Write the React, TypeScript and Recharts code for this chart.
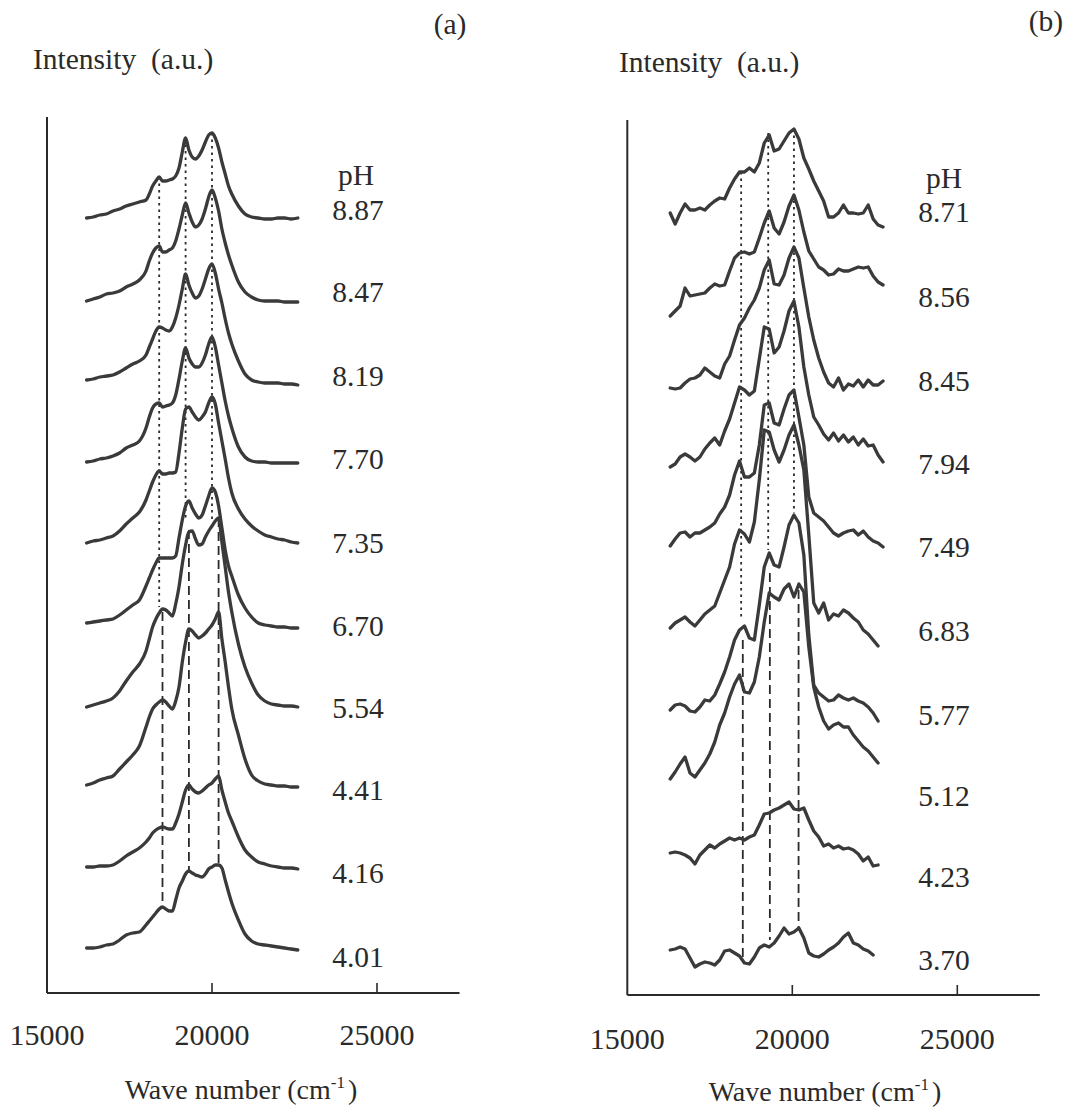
import React from 'react';
import { LineChart, Line, XAxis, YAxis, ReferenceLine } from 'recharts';

// ---------- panel (a) ----------
// wavenumber grid, cm^-1 (finer through the band region)
const gridA = [
  16200, 16400, 16600, 16800, 17000, 17200, 17400, 17600, 17800,
  18000, 18100, 18200, 18300, 18400, 18500, 18600, 18700, 18800, 18900,
  19000, 19100, 19200, 19300, 19400, 19500, 19600, 19700, 19800, 19900,
  20000, 20100, 20200, 20300, 20400, 20500, 20600,
  20800, 21000, 21200, 21400, 21600, 21800, 22000, 22200, 22400, 22600,
];

const phA = ['8.87', '8.47', '8.19', '7.70', '7.35', '6.70', '5.54', '4.41', '4.16', '4.01'];
// vertical stacking offset of each trace (a.u.)
const offsetsA = [775, 692, 610, 530, 450, 365, 286, 206, 124, 43];

const a887 = [0, 1, 3, 4, 7, 9, 12, 14, 16, 18, 24, 32, 37, 41, 37, 37, 38, 39, 42, 50, 66, 80, 68, 61, 59, 62, 68, 76, 83, 85, 80, 70, 56, 44, 32, 24, 12, 4, 1, 0, -1, -1, 0, 0, -1, 0];
const a847 = [0, 2, 4, 7, 8, 10, 14, 17, 21, 30, 40, 48, 53, 55, 49, 49, 51, 53, 60, 72, 86, 98, 88, 79, 74, 76, 82, 92, 104, 111, 103, 90, 72, 58, 46, 36, 19, 9, 4, 1, 0, 0, 0, -1, -1, -1];
const a819 = [3, 4, 6, 7, 8, 11, 15, 19, 22, 28, 36, 44, 52, 56, 55, 53, 52, 56, 65, 78, 94, 109, 98, 90, 85, 87, 94, 104, 114, 119, 110, 94, 80, 64, 50, 39, 22, 9, 3, 1, 0, 0, 0, -1, -1, -2];
const a770 = [1, 2, 4, 5, 7, 10, 15, 18, 22, 35, 46, 55, 59, 60, 56, 57, 58, 60, 68, 84, 102, 115, 105, 99, 96, 96, 100, 108, 119, 126, 116, 98, 80, 62, 47, 35, 16, 6, 2, 1, 1, 0, 0, 0, 0, 0];
const a735 = [0, 2, 3, 5, 7, 12, 19, 25, 31, 43, 52, 61, 68, 72, 69, 69, 70, 70, 71, 90, 115, 134, 136, 131, 126, 123, 126, 131, 140, 146, 139, 120, 102, 84, 65, 50, 34, 24, 17, 12, 8, 6, 4, 3, 1, 0];
const a670 = [5, 6, 7, 8, 9, 13, 18, 23, 28, 42, 50, 58, 65, 70, 70, 70, 70, 70, 72, 90, 108, 122, 127, 120, 114, 110, 113, 122, 132, 140, 136, 122, 100, 78, 62, 52, 33, 20, 11, 5, 3, 2, 1, 1, 0, 0];
const a554 = [0, 2, 4, 6, 9, 16, 26, 35, 43, 56, 68, 80, 88, 94, 98, 97, 94, 91, 103, 120, 143, 162, 175, 176, 168, 162, 163, 170, 176, 181, 186, 189, 165, 140, 115, 95, 63, 40, 24, 12, 6, 3, 2, 1, 1, 0];
const a441 = [2, 4, 7, 9, 11, 18, 25, 32, 41, 60, 70, 78, 82, 85, 87, 85, 81, 78, 86, 100, 125, 145, 158, 156, 152, 149, 151, 154, 158, 162, 168, 175, 148, 125, 100, 78, 52, 28, 12, 6, 3, 2, 1, 1, 0, 0];
const a416 = [2, 2, 3, 3, 4, 8, 13, 17, 21, 27, 31, 36, 39, 41, 42, 41, 40, 40, 46, 55, 67, 79, 84, 80, 77, 76, 78, 81, 84, 86, 90, 93, 79, 67, 56, 48, 32, 19, 12, 7, 5, 3, 2, 1, 1, 0];
const a401 = [2, 2, 3, 5, 6, 10, 15, 17, 18, 25, 29, 33, 37, 41, 43, 41, 39, 39, 50, 62, 69, 76, 79, 77, 75, 74, 73, 76, 81, 83, 85, 85, 82, 70, 58, 47, 30, 16, 9, 6, 5, 4, 3, 2, 1, 0];

const spectraA = [a887, a847, a819, a770, a735, a670, a554, a441, a416, a401];

// band-position guides: [wavenumber, upper a.u., lower a.u., style]
const guidesA: [number, number, number, string][] = [
  [18400, 816, 386, 'dot'],
  [19200, 855, 473, 'dot'],
  [20000, 860, 473, 'dot'],
  [18500, 381, 86, 'dash'],
  [19300, 463, 122, 'dash'],
  [20200, 475, 128, 'dash'],
];

// ---------- panel (b) ----------
const gridB = [
  16300, 16450, 16600, 16750, 16900, 17050, 17200, 17350, 17500, 17650, 17800,
  17950, 18100, 18250, 18400, 18550, 18700, 18850, 19000, 19150, 19300, 19450,
  19600, 19750, 19900, 20050, 20200, 20350, 20500, 20650, 20800, 20950, 21100,
  21250, 21400, 21550, 21700, 21850, 22000, 22150, 22300, 22450, 22600, 22750,
];

const phB = ['8.71', '8.56', '8.45', '7.94', '7.49', '6.83', '5.77', '5.12', '4.23', '3.70'];
const offsetsB = [770, 679, 607, 528, 450, 365, 280, 208, 137, 42];

const b871 = [12, 1, 12, 21, 15, 15, 17, 15, 20, 24, 27, 26, 37, 46, 53, 53, 57, 53, 62, 82, 90, 74, 76, 84, 92, 96, 86, 67, 56, 44, 34, 24, 8, 8, 12, 20, 12, 12, 11, 12, 20, 6, 0, -2];
const b856 = [0, 5, 10, 28, 20, 21, 22, 23, 28, 32, 30, 31, 45, 58, 63, 64, 62, 64, 78, 93, 105, 88, 82, 94, 110, 121, 106, 84, 65, 57, 49, 46, 41, 42, 47, 45, 45, 47, 49, 48, 49, 40, 34, 31];
const b845 = [0, -1, 0, 5, 9, 10, 13, 20, 16, 12, 10, 24, 32, 48, 63, 70, 80, 88, 100, 118, 128, 104, 103, 113, 130, 141, 130, 100, 71, 48, 30, 16, 5, 1, 10, -2, 4, 2, 8, 1, 8, 3, 3, 7];
const b794 = [0, 3, 10, 13, 10, 6, 10, 18, 24, 29, 22, 36, 48, 64, 80, 77, 72, 76, 108, 140, 138, 114, 120, 136, 156, 166, 140, 100, 72, 50, 42, 33, 27, 34, 26, 32, 25, 30, 22, 28, 21, 22, 12, 5];
const b749 = [-1, 6, 12, 13, 8, 12, 12, 15, 18, 22, 31, 38, 50, 70, 84, 68, 68, 72, 100, 140, 142, 122, 120, 136, 150, 155, 128, 100, 48, 32, 28, 24, 18, 12, 9, 12, 14, 15, 10, 14, 8, 4, 2, -2];
const b683 = [2, 7, 10, 13, 8, 4, 10, 16, 20, 24, 37, 50, 63, 86, 100, 96, 88, 108, 150, 200, 198, 180, 168, 180, 195, 205, 185, 160, 95, 27, 17, 27, 10, 16, 14, 20, 17, 12, 8, 0, -4, -10, -16, null];
const b577 = [5, 10, 11, 9, 4, 3, 8, 15, 14, 20, 31, 43, 58, 75, 85, 89, 77, 75, 110, 148, 162, 150, 148, 168, 190, 200, 192, 160, 80, 30, 22, 18, 14, 15, 20, 17, 15, 17, 14, 12, 8, 2, -6, null];
const b512 = [8, 15, 23, 30, 14, 10, 17, 24, 33, 45, 62, 74, 90, 103, 112, 95, 94, 105, 130, 165, 194, 190, 187, 198, 203, 190, 203, 195, 140, 100, 80, 66, 58, 62, 64, 60, 60, 52, 46, 40, 36, 30, 24, null];
const b423 = [5, 6, 5, 3, 0, -6, 3, 8, 13, 10, 14, 17, 20, 18, 20, 18, 21, 23, 33, 44, 45, 48, 50, 53, 56, 49, 48, 50, 38, 27, 21, 12, 14, 10, 12, 9, 10, 8, 4, -3, 1, -8, -7, null];
const b370 = [3, 4, 6, 4, -5, -14, -11, -9, -10, -12, -7, 2, 3, 0, -3, -10, -11, -4, 5, 8, 6, 10, 17, 25, 19, 21, 25, 15, 0, -3, -4, -1, 3, 6, 10, 16, 20, 10, 8, 4, 2, -2, null, null];

const spectraB = [b871, b856, b845, b794, b749, b683, b577, b512, b423, b370];

const guidesB: [number, number, number, string][] = [
  [18450, 823, 375, 'dot'],
  [19270, 862, 445, 'dot'],
  [20050, 866, 482, 'dot'],
  [18500, 355, 38, 'dash'],
  [19320, 422, 55, 'dash'],
  [20190, 405, 67, 'dash'],
];

const xTicks = [15000, 20000, 25000];

// ---------- styling ----------
const SERIF = '"Liberation Serif", "Times New Roman", Times, serif';
const INK = '#2a2a2a';
const TRACE = '#3a3a3a';
const PLOT_W = 412.5;
const PAGE_H = 1110;
const FS = 29.5;

type Row = { [k: string]: number | null };

function buildRows(grid: number[], spectra: (number | null)[][], offsets: number[]): Row[] {
  return grid.map((wn, i) => {
    const row: Row = { wn };
    spectra.forEach((s, k) => {
      const v = s[i];
      row['s' + k] = v == null ? null : v + offsets[k];
    });
    return row;
  });
}

const WaveTick = (props: any) => {
  const { x, y, payload, labelDy } = props;
  return (
    <g>
      {payload.value !== 15000 && (
        <line x1={x} x2={x} y1={y} y2={y - 10} stroke={INK} strokeWidth={1.6} />
      )}
      <text x={x} y={y + labelDy} textAnchor="middle" fontFamily={SERIF} fontSize={30} fill={INK}>
        {payload.value}
      </text>
    </g>
  );
};

type PanelProps = {
  left: number;
  width: number;
  plotLeft: number;
  plotTop: number;
  plotBottom: number;
  grid: number[];
  spectra: (number | null)[][];
  offsets: number[];
  guides: [number, number, number, string][];
  curve: 'monotone' | 'linear';
  labelDy: number;
};

function SpectraPanel(p: PanelProps) {
  const rows = buildRows(p.grid, p.spectra, p.offsets);
  const plotH = p.plotBottom - p.plotTop;
  return (
    <div style={{ position: 'absolute', left: p.left, top: 0 }}>
      <LineChart
        width={p.width}
        height={PAGE_H}
        data={rows}
        margin={{ top: p.plotTop, right: p.width - p.plotLeft - PLOT_W, bottom: 0, left: 0 }}
      >
        <XAxis
          dataKey="wn"
          type="number"
          domain={[15000, 27500]}
          ticks={xTicks}
          interval={0}
          height={PAGE_H - p.plotBottom}
          tickSize={0}
          tickMargin={0}
          tickLine={false}
          axisLine={{ stroke: INK, strokeWidth: 2 }}
          tick={<WaveTick labelDy={p.labelDy} />}
          allowDataOverflow
        />
        <YAxis
          type="number"
          domain={[0, plotH]}
          width={p.plotLeft}
          tick={false}
          tickLine={false}
          axisLine={{ stroke: INK, strokeWidth: 2 }}
          allowDataOverflow
        />
        {p.guides.map(([wn, top, bottom, style], i) => (
          <ReferenceLine
            key={'g' + i}
            segment={[{ x: wn, y: top }, { x: wn, y: bottom }]}
            stroke={INK}
            strokeWidth={1.8}
            strokeDasharray={style === 'dot' ? '2.5 4' : '9 5'}
          />
        ))}
        {p.spectra.map((_, k) => (
          <Line
            key={'s' + k}
            dataKey={'s' + k}
            type={p.curve}
            stroke={TRACE}
            strokeWidth={3.3}
            strokeLinejoin="round"
            strokeLinecap="round"
            dot={false}
            activeDot={false}
            connectNulls={false}
            isAnimationActive={false}
          />
        ))}
      </LineChart>
    </div>
  );
}

// label placement (page px)
const phLabelBaseA = [220, 302, 386, 469, 553, 636, 718, 800, 883, 967];
const phLabelBaseB = [222, 307, 391, 474, 557, 641, 725, 806, 887, 970];

const txt = { fontFamily: SERIF, fontSize: FS, fill: INK } as const;

function Annotations() {
  return (
    <svg
      width={1070}
      height={PAGE_H}
      style={{ position: 'absolute', left: 0, top: 0, pointerEvents: 'none' }}
    >
      <text x={450} y={34} textAnchor="middle" {...txt}>(a)</text>
      <text x={1046} y={31} textAnchor="middle" {...txt}>(b)</text>

      <text x={33} y={69} {...txt} style={{ whiteSpace: 'pre' }}>Intensity  (a.u.)</text>
      <text x={619} y={72} {...txt} style={{ whiteSpace: 'pre' }}>Intensity  (a.u.)</text>

      <text x={356} y={185} textAnchor="middle" {...txt}>pH</text>
      {phA.map((ph, i) => (
        <text key={'pa' + i} x={358} y={phLabelBaseA[i]} textAnchor="middle" {...txt}>{ph}</text>
      ))}
      <text x={944} y={188} textAnchor="middle" {...txt}>pH</text>
      {phB.map((ph, i) => (
        <text key={'pb' + i} x={944} y={phLabelBaseB[i]} textAnchor="middle" {...txt}>{ph}</text>
      ))}

      <text x={241} y={1099} textAnchor="middle" fontFamily={SERIF} fontSize={28} fill={INK}>
        Wave number (cm<tspan dy={-11} fontSize={17}>-1</tspan><tspan dy={11} dx={3}>)</tspan>
      </text>
      <text x={825} y={1101} textAnchor="middle" fontFamily={SERIF} fontSize={28} fill={INK}>
        Wave number (cm<tspan dy={-11} fontSize={17}>-1</tspan><tspan dy={11} dx={3}>)</tspan>
      </text>
    </svg>
  );
}

export default function App() {
  return (
    <div
      style={{
        position: 'absolute',
        left: 0,
        top: 0,
        width: 1070,
        height: PAGE_H,
        background: '#ffffff',
        overflow: 'hidden',
      }}
    >
      <SpectraPanel
        left={0}
        width={540}
        plotLeft={47}
        plotTop={117}
        plotBottom={993}
        grid={gridA}
        spectra={spectraA}
        offsets={offsetsA}
        guides={guidesA}
        curve="monotone"
        labelDy={52}
      />
      <SpectraPanel
        left={540}
        width={530}
        plotLeft={87.3}
        plotTop={120}
        plotBottom={995}
        grid={gridB}
        spectra={spectraB}
        offsets={offsetsB}
        guides={guidesB}
        curve="linear"
        labelDy={54}
      />
      <Annotations />
    </div>
  );
}
